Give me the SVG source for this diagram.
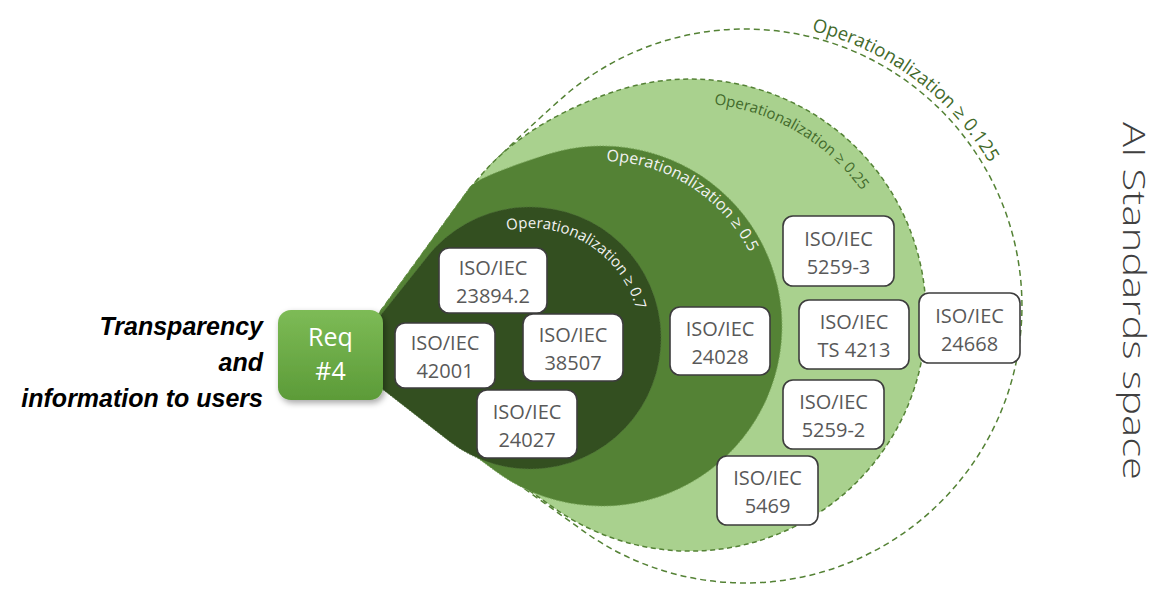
<svg xmlns="http://www.w3.org/2000/svg" width="1162" height="590" viewBox="0 0 1162 590">
<defs>
<style>
.box{fill:#ffffff;stroke:#3d3d3d;stroke-width:1.6}
.bt{font-family:"Open Sans","Liberation Sans",sans-serif;font-size:20px;fill:#595959;text-anchor:middle}
.arcw{font-family:"Open Sans","Liberation Sans",sans-serif;fill:#f2f2f2}
.arcg{font-family:"Open Sans","Liberation Sans",sans-serif;fill:#426a2b}
.left{font-family:"Liberation Sans",Arial,sans-serif;font-size:25px;font-weight:bold;font-style:italic;fill:#000;text-anchor:end}
</style>
<linearGradient id="reqGrad" x1="0" y1="0" x2="0" y2="1">
<stop offset="0" stop-color="#7dbb56"/>
<stop offset="1" stop-color="#5c9b38"/>
</linearGradient>
<filter id="shadow" x="-20%" y="-20%" width="150%" height="150%">
<feDropShadow dx="2" dy="3" stdDeviation="3" flood-color="#000" flood-opacity="0.35"/>
</filter>
<path id="p0125" d="M811.5,30.9 A283,283 0 0 1 1028,306"/>
<path id="p025" d="M714,104.4 A212,212 0 0 1 902,315"/>
<path id="p05" d="M606.3,161.1 A165,165 0 0 1 767,326"/>
<path id="p07" d="M507.1,230.4 A110,110 0 0 1 639.6,347.6"/>
</defs>
<rect width="1162" height="590" fill="#ffffff"/>

<g id="layer-0125">
<path d="M345,360 L466,193.5 Q485.5,166.6 560,99.8 A277,277 0 1 1 583.5,531.1 Z" fill="#ffffff" stroke="#548235" stroke-width="1.5" stroke-dasharray="6 4"/>
<text class="arcg" font-size="18.5"><textPath href="#p0125">Operationalization ≥ 0.125</textPath></text>
</g>

<g id="layer-025">
<path d="M345,360 L470,189.5 Q515.2,125.8 613,92 A236,236 0 1 1 553.6,507.7 Z" fill="#a9d18e" stroke="#548235" stroke-width="1.5" stroke-dasharray="5 3.5"/>
<text class="arcg" font-size="15"><textPath href="#p025">Operationalization ≥ 0.25</textPath></text>
</g>

<g id="layer-05">
<path d="M345,360 L470,187 Q477.1,177 547,154.6 A180,180 0 1 1 495,470.8 Z" fill="#548235" stroke="#74a055" stroke-width="1" stroke-dasharray="1.5 1.5"/>
<text class="arcw" font-size="16"><textPath href="#p05">Operationalization ≥ 0.5</textPath></text>
</g>

<g id="layer-07">
<path d="M345,360 L427.5,256.4 A131,131 0 1 1 449.6,441.4 Z" fill="#334f20" stroke="#4d6e38" stroke-width="1" stroke-dasharray="1.5 1.5"/>
<text class="arcw" font-size="15"><textPath href="#p07">Operationalization ≥ 0.7</textPath></text>
</g>

<g id="connectors"></g>

<g id="std-23894-2"><rect class="box" x="439" y="248" width="108" height="65" rx="10"/><text class="bt" x="493" y="275">ISO/IEC</text><text class="bt" x="493" y="303">23894.2</text></g>
<g id="std-42001"><rect class="box" x="395" y="323" width="100" height="65" rx="10"/><text class="bt" x="445" y="350">ISO/IEC</text><text class="bt" x="445" y="378">42001</text></g>
<g id="std-38507"><rect class="box" x="523" y="314" width="100" height="67" rx="10"/><text class="bt" x="573" y="342">ISO/IEC</text><text class="bt" x="573" y="370">38507</text></g>
<g id="std-24027"><rect class="box" x="477" y="390" width="100" height="68" rx="10"/><text class="bt" x="527" y="418.5">ISO/IEC</text><text class="bt" x="527" y="446.5">24027</text></g>
<g id="std-24028"><rect class="box" x="670" y="307" width="100" height="68" rx="10"/><text class="bt" x="720" y="335.5">ISO/IEC</text><text class="bt" x="720" y="363.5">24028</text></g>
<g id="std-5259-3"><rect class="box" x="783" y="216" width="111" height="70" rx="10"/><text class="bt" x="838.5" y="245.5">ISO/IEC</text><text class="bt" x="838.5" y="273.5">5259-3</text></g>
<g id="std-ts4213"><rect class="box" x="799" y="300" width="110" height="69" rx="10"/><text class="bt" x="854" y="329">ISO/IEC</text><text class="bt" x="854" y="357">TS 4213</text></g>
<g id="std-24668"><rect class="box" x="919" y="293" width="101" height="70" rx="10"/><text class="bt" x="969.5" y="322.5">ISO/IEC</text><text class="bt" x="969.5" y="350.5">24668</text></g>
<g id="std-5259-2"><rect class="box" x="783" y="380" width="101" height="69" rx="10"/><text class="bt" x="833.5" y="409">ISO/IEC</text><text class="bt" x="833.5" y="437">5259-2</text></g>
<g id="std-5469"><rect class="box" x="717" y="456" width="101" height="69" rx="10"/><text class="bt" x="767.5" y="485">ISO/IEC</text><text class="bt" x="767.5" y="513">5469</text></g>

<g id="req4">
<rect x="278" y="310" width="105" height="90" rx="13" fill="url(#reqGrad)" filter="url(#shadow)"/>
<text x="330.5" y="346" font-family="'Open Sans','Liberation Sans',sans-serif" font-size="25" fill="#ffffff" text-anchor="middle">Req</text>
<text x="330.5" y="380" font-family="'Open Sans','Liberation Sans',sans-serif" font-size="25" fill="#ffffff" text-anchor="middle">#4</text>
</g>

<g id="req-label">
<text class="left" x="263" y="335">Transparency</text>
<text class="left" x="263" y="371">and</text>
<text class="left" x="263" y="407">information to users</text>
</g>

<g id="space-title">
<text transform="translate(1123,122) rotate(90)" x="0" y="0" font-family="'Open Sans','Liberation Sans',sans-serif" font-weight="300" font-size="32" fill="#404040" textLength="358" lengthAdjust="spacingAndGlyphs">AI Standards space</text>
</g>
</svg>
